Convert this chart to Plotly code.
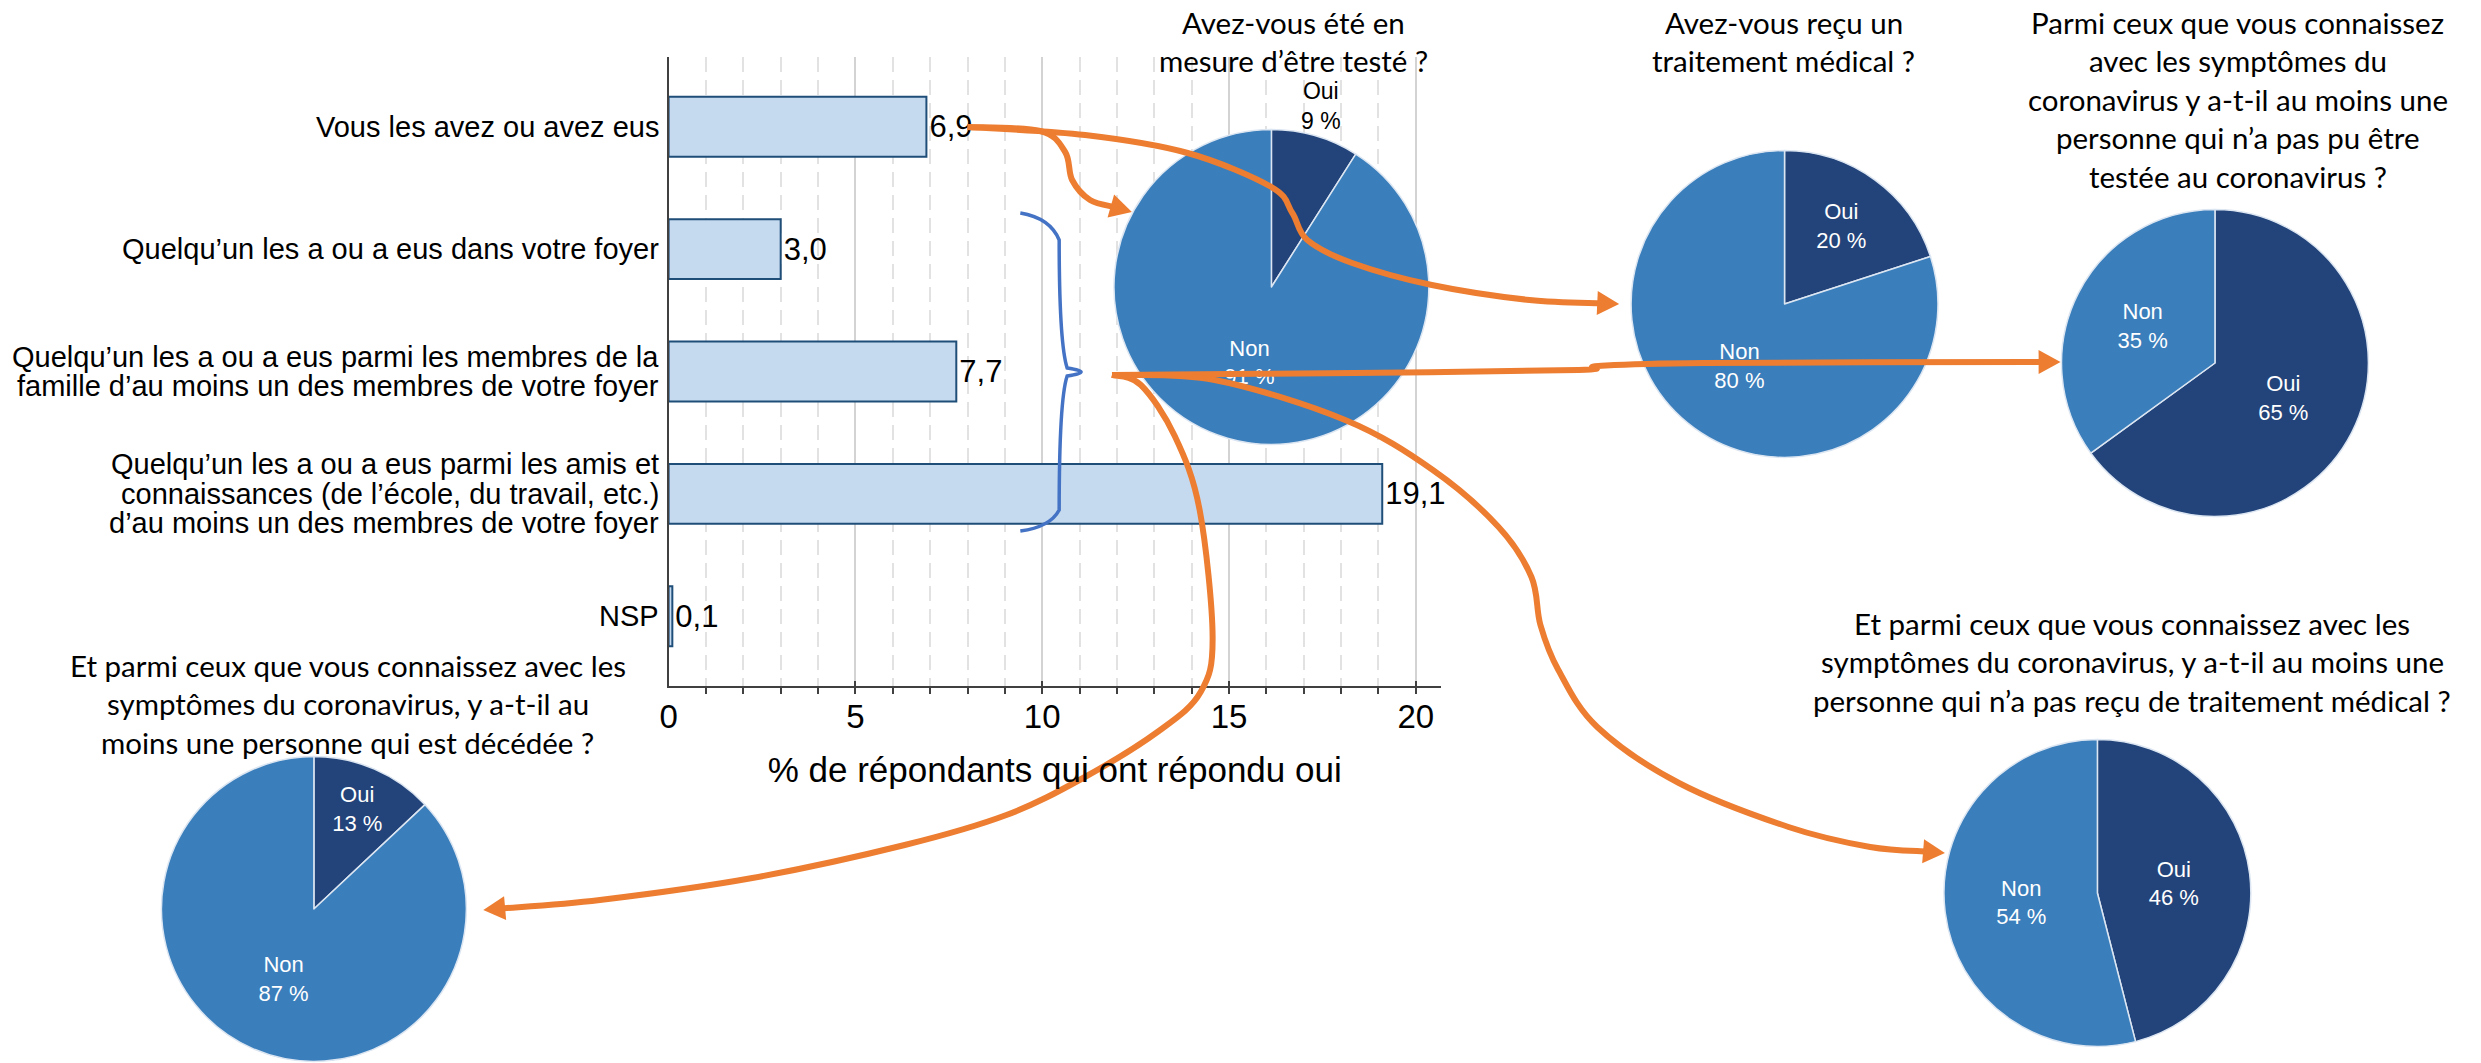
import plotly.graph_objects as go

# ---- data ----
categories = [
    "Vous les avez ou avez eus",
    "Quelqu’un les a ou a eus dans votre foyer",
    "Quelqu’un les a ou a eus parmi les membres de la<br>famille d’au moins un des membres de votre foyer",
    "Quelqu’un les a ou a eus parmi les amis et<br>connaissances (de l’école, du travail, etc.)<br>d’au moins un des membres de votre foyer",
    "NSP",
]
pct_yes = [6.9, 3.0, 7.7, 19.1, 0.1]
x_ticks = [0, 5, 10, 15, 20]
x_title = "% de répondants qui ont répondu oui"

pie_labels = ["Oui", "Non"]
pie_tested = [9, 91]
pie_treated = [20, 80]
pie_not_tested = [65, 35]
pie_deceased = [13, 87]
pie_not_treated = [46, 54]

title_tested = ["Avez-vous été en", "mesure d’être testé ?"]
title_treated = ["Avez-vous reçu un", "traitement médical ?"]
title_not_tested = ["Parmi ceux que vous connaissez", "avec les symptômes du",
                    "coronavirus y a-t-il au moins une", "personne qui n’a pas pu être",
                    "testée au coronavirus ?"]
title_deceased = ["Et parmi ceux que vous connaissez avec les",
                  "symptômes du coronavirus, y a-t-il au",
                  "moins une personne qui est décédée ?"]
title_not_treated = ["Et parmi ceux que vous connaissez avec les",
                     "symptômes du coronavirus, y a-t-il au moins une",
                     "personne qui n’a pas reçu de traitement médical ?"]

# ---- layout geometry (pixels) ----
W, H = 2481, 1063
ARIAL = "Liberation Sans, Arial, sans-serif"
CALIBRI = "Lato, Carlito, Calibri, sans-serif"
DARK = "#23447A"
MID = "#3A7EBB"
ORANGE = "#ED7D31"
BRACE = "#4472C4"


def px_x(x):
    return x / W


def px_y(y):
    return 1 - y / H


def dom(cx, cy, r):
    return dict(x=[max(0, px_x(cx - r)), min(1, px_x(cx + r))],
                y=[max(0, px_y(cy + r)), min(1, px_y(cy - r))])


fig = go.Figure()

# bar chart
fig.add_trace(go.Bar(
    x=pct_yes, y=categories, orientation="h", width=0.49,
    marker=dict(color="#C5DAEF", line=dict(color="#1F4E79", width=2)),
    texttemplate="%{x:.1f}", textposition="outside", cliponaxis=False,
    textfont=dict(family=ARIAL, size=31, color="black"),
    showlegend=False, hoverinfo="skip",
))

# pies
pies = [
    (pie_tested, 1267, 287, 158, ["none", "inside"]),
    (pie_treated, 1782, 304, 154, "inside"),
    (pie_not_tested, 2214, 363, 154, "inside"),
    (pie_deceased, 306, 909, 153, "inside"),
    (pie_not_treated, 2096, 893, 154, "inside"),
]
for vals, cx, cy, r, tpos in pies:
    fig.add_trace(go.Pie(
        labels=pie_labels, values=vals, sort=False, direction="clockwise", rotation=0,
        domain=dom(cx, cy, r),
        marker=dict(colors=[DARK, MID], line=dict(color="#DCE6F2", width=1.5)),
        texttemplate="%{label}<br>%{value} %", textposition=tpos,
        insidetextorientation="horizontal",
        insidetextfont=dict(family=ARIAL, size=22, color="white"),
        showlegend=False, hoverinfo="skip",
    ))

annotations = []

# small "Oui" slice of the first pie is labelled above the pie
annotations.append(dict(
    x=px_x(1317), y=px_y(106), xref="paper", yref="paper", showarrow=False,
    xanchor="center", yanchor="middle",
    text="%s<br>%d %%" % (pie_labels[0], pie_tested[0]),
    font=dict(family=ARIAL, size=23, color="black"),
))

# category labels, tight line spacing
for cat in categories:
    lines = cat.split("<br>")
    n = len(lines)
    for k, line in enumerate(lines):
        annotations.append(dict(
            x=px_x(654), xref="paper", y=cat, yref="y", xanchor="right", yanchor="middle",
            yshift=-(k - (n - 1) / 2) * 29.5, text=line, showarrow=False,
            font=dict(family=ARIAL, size=29, color="black"),
        ))

# pie titles
titles = [
    (title_tested, 1289, 22),
    (title_treated, 1781, 22),
    (title_not_tested, 2237, 22),
    (title_deceased, 340, 665),
    (title_not_treated, 2131, 623),
]
for lines, cx, y0 in titles:
    for k, line in enumerate(lines):
        annotations.append(dict(
            x=px_x(cx), y=px_y(y0 + k * 38.6), xref="paper", yref="paper",
            xanchor="center", yanchor="middle", text=line, showarrow=False,
            font=dict(family=CALIBRI, size=29.5, color="black"),
        ))


# ---- connectors ----
def smooth_path(pts):
    d = "M %.5f,%.5f" % (px_x(pts[0][0]), px_y(pts[0][1]))
    for i in range(len(pts) - 1):
        p0 = pts[i - 1] if i > 0 else pts[i]
        p1, p2 = pts[i], pts[i + 1]
        p3 = pts[i + 2] if i + 2 < len(pts) else pts[i + 1]
        c1 = (p1[0] + (p2[0] - p0[0]) / 6, p1[1] + (p2[1] - p0[1]) / 6)
        c2 = (p2[0] - (p3[0] - p1[0]) / 6, p2[1] - (p3[1] - p1[1]) / 6)
        d += " C %.5f,%.5f %.5f,%.5f %.5f,%.5f" % (
            px_x(c1[0]), px_y(c1[1]), px_x(c2[0]), px_y(c2[1]), px_x(p2[0]), px_y(p2[1]))
    return d


shapes = []


def arrow(pts, head=22, half=12):
    tip = pts[-1]
    prev = pts[-2]
    dx, dy = tip[0] - prev[0], tip[1] - prev[1]
    L = (dx * dx + dy * dy) ** 0.5
    ux, uy = dx / L, dy / L
    base = (tip[0] - ux * head, tip[1] - uy * head)
    body = pts[:-1] + [(tip[0] - ux * head * 0.8, tip[1] - uy * head * 0.8)]
    shapes.append(dict(type="path", xref="paper", yref="paper", layer="above",
                       path=smooth_path(body), line=dict(color=ORANGE, width=6)))
    b1 = (base[0] - uy * half, base[1] + ux * half)
    b2 = (base[0] + uy * half, base[1] - ux * half)
    tri = "M %.5f,%.5f L %.5f,%.5f L %.5f,%.5f Z" % (
        px_x(tip[0]), px_y(tip[1]), px_x(b1[0]), px_y(b1[1]), px_x(b2[0]), px_y(b2[1]))
    shapes.append(dict(type="path", xref="paper", yref="paper", layer="above",
                       path=tri, fillcolor=ORANGE, line=dict(width=0)))


arrow([(962, 127), (1035, 131), (1060, 152), (1067, 180), (1085, 200), (1127, 212)])
arrow([(962, 127), (1080, 135), (1183, 153), (1267, 187), (1288, 213), (1303, 240),
       (1348, 263), (1428, 285), (1526, 300), (1616, 304)])
arrow([(1107, 375), (1350, 373), (1575, 370), (1595, 366), (1700, 363), (2059, 362)])
arrow([(1107, 375), (1210, 380), (1341, 420), (1429, 470), (1495, 527), (1528, 577),
       (1537, 625), (1555, 670), (1594, 727), (1676, 783), (1786, 827), (1868, 847), (1943, 853)])
arrow([(1107, 375), (1136, 385), (1170, 436), (1195, 510), (1208, 637), (1196, 692),
       (1154, 731), (1078, 778), (1001, 815), (899, 845), (746, 878), (593, 900), (476, 910)])

# curly brace
brace = [(1015, 213), (1045, 218), (1054, 240), (1054, 343), (1062, 368), (1090, 372),
         (1062, 376), (1054, 400), (1054, 510), (1045, 527), (1015, 531)]
brace_path = "M %.5f,%.5f" % (px_x(brace[0][0]), px_y(brace[0][1]))
for i in range(1, len(brace) - 1, 2):
    c, e = brace[i], brace[i + 1]
    brace_path += " Q %.5f,%.5f %.5f,%.5f" % (px_x(c[0]), px_y(c[1]), px_x(e[0]), px_y(e[1]))
shapes.append(dict(type="path", xref="paper", yref="paper", layer="above",
                   path=brace_path, line=dict(color=BRACE, width=3.5)))

fig.update_layout(
    width=W, height=H, margin=dict(l=0, r=0, t=0, b=0),
    paper_bgcolor="white", plot_bgcolor="white", separators=", ",
    bargap=0.5, annotations=annotations, shapes=shapes,
    font=dict(family=ARIAL, color="black"),
    xaxis=dict(
        domain=[px_x(662), px_x(1437)], range=[0, 20.667], tickvals=x_ticks,
        showgrid=True, gridcolor="#D3D3D3", gridwidth=1.5,
        showline=True, linecolor="#404040", linewidth=2, zeroline=False,
        ticks="inside", ticklen=5, tickcolor="#404040", tickwidth=1.5,
        tickfont=dict(family=ARIAL, size=33, color="black"),
        minor=dict(dtick=1, showgrid=True, gridcolor="#E2E2E2", griddash="15px,8px",
                   gridwidth=1.5, ticks="outside", ticklen=6, tickcolor="#404040"),
        title=dict(text=x_title, font=dict(family=ARIAL, size=35, color="black"), standoff=24),
    ),
    yaxis=dict(
        domain=[px_y(686), px_y(57)], range=[4.57, -0.57],
        categoryorder="array", categoryarray=categories,
        showticklabels=False, showgrid=False, zeroline=False,
        showline=True, linecolor="#404040", linewidth=2, ticks="",
    ),
)

fig.write_html("out.html", config={"displayModeBar": False},
               post_script="document.body.style.margin='0px';")
